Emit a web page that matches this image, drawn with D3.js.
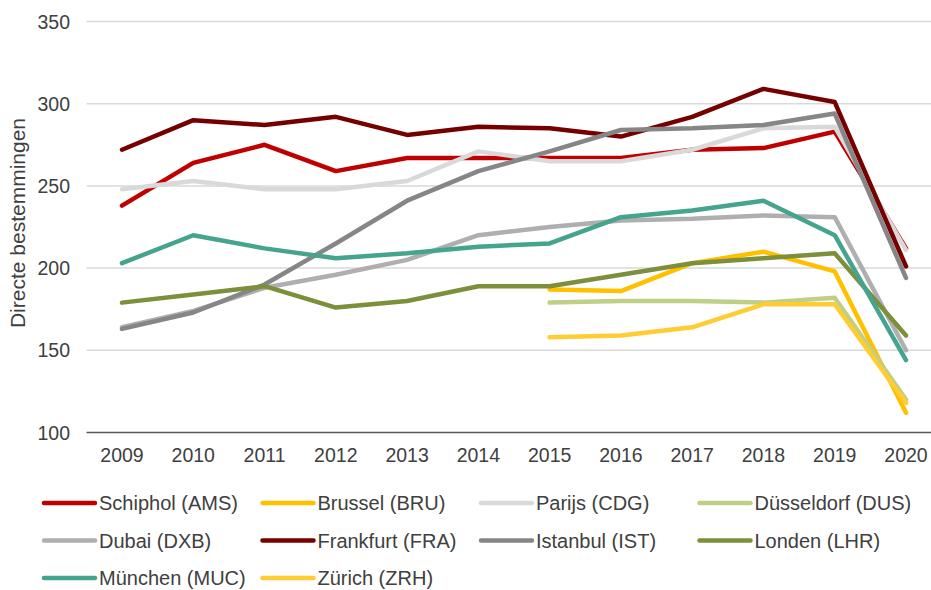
<!DOCTYPE html>
<html>
<head>
<meta charset="utf-8">
<script src="https://cdn.jsdelivr.net/npm/d3@7"></script>
<style>
  body { margin: 0; background: #fff; }
  text { font-family: "Liberation Sans", Arial, sans-serif; fill: #404040; }
</style>
</head>
<body>
<div id="chart"></div>
<script>
// Set dimensions
const width = 931;
const height = 590;

// Data
const years = ["2009", "2010", "2011", "2012", "2013", "2014", "2015", "2016", "2017", "2018", "2019", "2020"];
const yTicks = [100, 150, 200, 250, 300, 350];

const ams = [238, 264, 275, 259, 267, 267, 267, 267, 272, 273, 283, 212];
const bru = [null, null, null, null, null, null, 187, 186, 203, 210, 198, 112];
const cdg = [248, 253, 248, 248, 253, 271, 265, 265, 272, 285, 286, 211];
const dus = [null, null, null, null, null, null, 179, 180, 180, 179, 182, 120];
const dxb = [164, 174, 188, 196, 205, 220, 225, 229, 230, 232, 231, 150];
const fra = [272, 290, 287, 292, 281, 286, 285, 280, 292, 309, 301, 201];
const ist = [163, 173, 190, 215, 241, 259, 271, 284, 285, 287, 294, 194];
const lhr = [179, 184, 189, 176, 180, 189, 189, 196, 203, 206, 209, 159];
const muc = [203, 220, 212, 206, 209, 213, 215, 231, 235, 241, 220, 144];
const zrh = [null, null, null, null, null, null, 158, 159, 164, 178, 178, 118];

const series = [
  { name: "Schiphol (AMS)", values: ams, color: "#C00000" },
  { name: "Brussel (BRU)", values: bru, color: "#FFC000" },
  { name: "Parijs (CDG)", values: cdg, color: "#D9D9D9" },
  { name: "Düsseldorf (DUS)", values: dus, color: "#BFCF86" },
  { name: "Dubai (DXB)", values: dxb, color: "#AFAFAF" },
  { name: "Frankfurt (FRA)", values: fra, color: "#760000" },
  { name: "Istanbul (IST)", values: ist, color: "#868686" },
  { name: "Londen (LHR)", values: lhr, color: "#7C8F3A" },
  { name: "München (MUC)", values: muc, color: "#45A48D" },
  { name: "Zürich (ZRH)", values: zrh, color: "#FFCC33" }
];

const plotLeft = 86.5;

const svg = d3.select("#chart")
  .append("svg")
  .attr("width", width)
  .attr("height", height)
  .attr("viewBox", [0, 0, width, height]);

const x = d3.scalePoint()
  .domain(years)
  .range([122, 906]);

const y = d3.scaleLinear()
  .domain([100, 350])
  .range([432.5, 21.5]);

// gridlines
svg.append("g")
  .selectAll("line")
  .data(yTicks.slice(1))
  .join("line")
  .attr("x1", plotLeft)
  .attr("x2", width)
  .attr("y1", d => y(d))
  .attr("y2", d => y(d))
  .attr("stroke", "#D9D9D9")
  .attr("stroke-width", 1.5);

// y tick labels
svg.append("g")
  .selectAll("text")
  .data(yTicks)
  .join("text")
  .attr("x", 70)
  .attr("y", d => y(d))
  .attr("dy", "0.36em")
  .attr("text-anchor", "end")
  .style("font-size", "19.5px")
  .text(d => d);

// x axis baseline
svg.append("line")
  .attr("x1", plotLeft)
  .attr("x2", width)
  .attr("y1", y(100))
  .attr("y2", y(100))
  .attr("stroke", "#595959")
  .attr("stroke-width", 1.5);

// x tick labels
svg.append("g")
  .selectAll("text")
  .data(years)
  .join("text")
  .attr("x", d => x(d))
  .attr("y", 462)
  .attr("text-anchor", "middle")
  .style("font-size", "19.5px")
  .text(d => d);

// y axis title
svg.append("text")
  .attr("transform", "translate(25,223) rotate(-90)")
  .attr("text-anchor", "middle")
  .style("font-size", "21px")
  .text("Directe bestemmingen");

// lines
const line = d3.line()
  .defined(d => d != null)
  .x((d, i) => x(years[i]))
  .y(d => y(d));

svg.append("g")
  .selectAll("path")
  .data(series)
  .join("path")
  .attr("d", d => line(d.values))
  .attr("fill", "none")
  .attr("stroke", d => d.color)
  .attr("stroke-width", 4.5)
  .attr("stroke-linejoin", "round")
  .attr("stroke-linecap", "round");

// legend
const legend = svg.append("g")
  .selectAll("g")
  .data(series)
  .join("g")
  .attr("transform", (d, i) => `translate(${44 + (i % 4) * 218.5},${503 + Math.floor(i / 4) * 37.5})`);

legend.append("line")
  .attr("x1", 0)
  .attr("x2", 51)
  .attr("stroke", d => d.color)
  .attr("stroke-width", 4.5)
  .attr("stroke-linecap", "round");

legend.append("text")
  .attr("x", 55)
  .attr("dy", "0.36em")
  .style("font-size", "20px")
  .text(d => d.name);
</script>
</body>
</html>
